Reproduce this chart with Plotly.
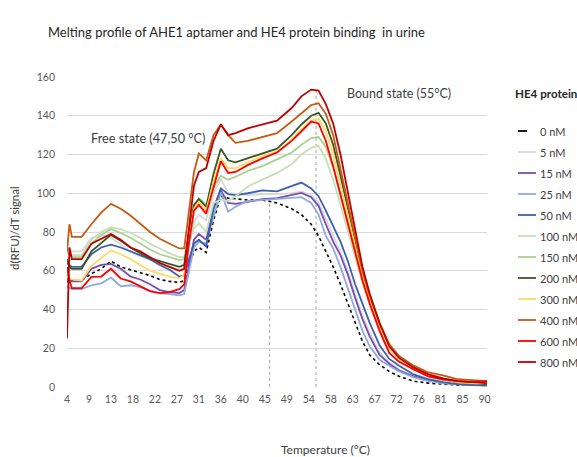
import plotly.graph_objects as go

TEMP = [4, 4.5, 5, 7, 9, 11, 13, 15, 17, 19, 21, 23, 25, 27, 28, 29, 30, 31, 32.5, 34,
        35.5, 37, 38.5, 41, 44, 47, 50, 52, 54, 55.5, 57, 58.5, 60, 61.5, 63, 64.5, 66,
        68, 70, 72, 75, 78, 81, 84, 87, 90]

NM_0 = [54, 56, 55, 55, 58.5, 61, 65, 62, 60.5, 59, 57.5, 55.5, 54.5, 54, 55, 63, 70, 72, 69.5, 86,
        98.5, 97.5, 97, 96.5, 96.5, 95, 92, 89, 84, 78, 70, 62, 53, 43, 33, 23.5, 16.5,
        11.5, 8, 5.5, 3, 2, 1.5, 1, 1, 1]
NM_5 = [72, 71, 70, 70, 77, 78.5, 77, 73.5, 70, 67.5, 65.5, 63.5, 62, 60.5, 61, 74, 85, 89, 86, 100,
        107.5, 100, 99.5, 99, 99.5, 99.5, 100, 101, 99, 95.5, 87, 78, 70, 60, 48, 37, 28,
        18, 12.5, 9, 5.5, 3.5, 2, 1.5, 1, 1]
NM_15 = [56, 55, 54.5, 54.5, 61, 63, 63.5, 61, 57, 55.5, 53, 50, 49, 48.5, 50, 64, 76, 79, 76, 92,
         101.5, 95, 94.5, 95.5, 97, 97.5, 99, 100.2, 98, 93.5, 84, 75, 68, 58, 46, 35, 26,
         16.5, 12, 8.5, 5.5, 3.5, 2, 1.5, 1, 1]
NM_25 = [52, 51, 50.5, 50.5, 52.5, 53.5, 56.5, 52, 52.5, 51.5, 49.5, 48.5, 48, 47.3, 48, 60, 72, 75, 74, 88,
         100.5, 90.5, 93, 96, 96.5, 97, 97.5, 98, 95, 89, 78, 71.5, 62, 51, 39.5, 29, 21,
         14, 11, 8, 5, 3, 2, 1.5, 1, 0.5]
NM_50 = [64, 63, 62, 62, 68.5, 72, 73.5, 72, 70, 68, 66, 63, 60.5, 57, 57.5, 66, 74, 76, 72.5, 92,
         102.5, 99.5, 99, 100, 101.5, 101, 103.5, 105.5, 102.5, 98.5, 91, 83, 75, 65, 53, 43, 33,
         21.5, 14.5, 11, 6.5, 4, 2.5, 1.5, 1, 1]
NM_100 = [72, 70, 68, 68, 76, 80, 82.5, 81.5, 79.5, 77, 74, 71.5, 69, 67, 67, 75, 82, 84.5, 80, 95,
          96.5, 96, 98.5, 103.5, 107, 110.5, 115, 120, 123.5, 124.5, 118, 107, 94, 80, 67, 54, 42,
          29.5, 19.5, 14, 9, 5.5, 3.5, 2.5, 2, 1.5]
NM_150 = [70, 68, 67, 67, 74, 78.5, 81.5, 79.5, 77, 74, 71, 68.5, 67, 65.5, 66, 80, 93, 97.5, 94, 103,
          109, 107, 108.5, 111.5, 114, 117.5, 121, 125, 128.5, 129, 124, 113, 99, 84, 70, 56, 44,
          30.5, 20, 14, 9, 5.5, 3.5, 2.5, 2, 1.5]
NM_200 = [66, 62, 61, 61, 70, 74.5, 78.5, 75.5, 72, 69, 66.5, 65, 63.5, 62, 63, 80, 94, 97, 93, 110,
          123, 117, 116, 118, 120.5, 123, 130, 135.5, 140, 141.5, 136, 125, 109, 92, 76, 59, 46,
          32, 21, 15, 10, 6, 4, 2.5, 2, 1.5]
NM_300 = [58, 56, 55.5, 55, 62.5, 66.5, 70.5, 68.5, 66, 63, 60, 58.5, 57, 56, 58, 77, 92, 95.5, 91, 106,
          118, 113, 113, 116, 119, 121.5, 127.5, 133, 137.5, 138.5, 132, 120, 104, 88, 73, 57, 45,
          31, 20.5, 14.5, 9.5, 6, 4, 2.5, 2, 2]
NM_400 = [70, 84, 77.5, 77.5, 84, 90, 94.5, 92, 88.5, 84, 80, 76.5, 74, 71.5, 71.5, 92, 111, 120.5, 117, 130,
          135.5, 130, 126, 127, 129, 131, 137, 141.5, 145.5, 146.5, 141, 130, 113, 95, 77, 60, 47,
          33, 22, 16, 11, 7.5, 6, 4, 3.5, 3]
NM_600 = [62, 55, 51, 51, 56.8, 57, 61, 56, 54.5, 52, 49.5, 48.5, 49, 50.5, 53, 75, 91, 94, 89.5, 103,
          116.5, 110.5, 111, 114.5, 118, 121, 127, 132, 137, 136, 127, 114, 99, 84, 69, 55, 43,
          29, 17.5, 13, 9, 5.5, 4, 3, 2.5, 3]
NM_800 = [25, 72, 66, 66, 74, 76.5, 79, 76, 72, 70, 67, 64, 62, 60, 61, 82, 104, 111, 113, 127,
          135.5, 130, 131, 133.5, 135.5, 137.5, 144, 150, 153.5, 153, 146, 136, 120, 100, 81, 62, 48,
          33, 21, 15, 10, 6.5, 4.5, 3, 2.5, 2]

SERIES = [
    ("0 nM", NM_0, "#000000", "dot"),
    ("5 nM", NM_5, "#D9D9D9", "solid"),
    ("15 nM", NM_15, "#7A4BB3", "solid"),
    ("25 nM", NM_25, "#8FAADC", "solid"),
    ("50 nM", NM_50, "#3A62AC", "solid"),
    ("100 nM", NM_100, "#C5E0B4", "solid"),
    ("150 nM", NM_150, "#A9D18E", "solid"),
    ("200 nM", NM_200, "#385723", "solid"),
    ("300 nM", NM_300, "#FFD966", "solid"),
    ("400 nM", NM_400, "#C55A11", "solid"),
    ("600 nM", NM_600, "#FF0000", "solid"),
    ("800 nM", NM_800, "#C00000", "solid"),
]

# Excel-style category labels (every 9th point at 0.5 °C steps)
TICK_TEMPS = [4, 8.5, 13, 17.5, 22, 26.5, 31, 35.5, 40, 44.5, 49, 53.5, 58, 62.5, 67, 71.5, 76, 80.5, 85, 89.5]
TICK_LABELS = ["4", "9", "13", "18", "22", "27", "31", "36", "40", "45", "49", "54", "58", "63", "67",
               "72", "76", "81", "85", "90"]

# Dotted markers for the two states: (temperature, height)
STATE_LINES = [(45.5, 98), (55, 153.5)]

W, H = 577, 457
L, R, T, B = 67, 90, 77, 70
PW, PH = W - L - R, H - T - B


def paper(x, y):
    return (x - L) / PW, (H - B - y) / PH


fig = go.Figure()
for name, vals, color, dash in SERIES:
    fig.add_trace(go.Scatter(
        x=TEMP, y=vals, mode="lines", name=name, showlegend=False,
        line=dict(color=color, width=1.8 if dash == "solid" else 1.6, dash=dash),
    ))

for t, top in STATE_LINES:
    fig.add_shape(type="line", x0=t, x1=t, y0=0, y1=top, xref="x", yref="y",
                  line=dict(color="#A6A6A6", width=1, dash="dot"), layer="below")

FONT = "Lato, 'Open Sans', sans-serif"
TXT = "#404040"


def note(text, x, y, size, xanchor="center", **kw):
    px, py = paper(x, y)
    fig.add_annotation(text=text, x=px, y=py, xref="paper", yref="paper", showarrow=False,
                       xanchor=xanchor, yanchor="middle",
                       font=dict(family=FONT, size=size, color=kw.pop("color", TXT)), **kw)


note("Melting profile of AHE1 aptamer and HE4 protein binding  in urine", 236, 32, 13, color="#262626")
note("Free state (47,50 °C)", 148, 138, 12.7)
note("Bound state (55°C)", 399, 93, 12.5)
note("Temperature (°C)", 325, 449, 12)
note("d(RFU)/dT signal", 14, 228, 11.5, textangle=-90)
note("<b>HE4 protein</b>", 546, 93, 11.6, color="#262626")

# legend drawn by hand so it sits exactly where Excel put it
for i, (name, vals, color, dash) in enumerate(SERIES):
    ly = 131 + 21 * i
    x0, y0 = paper(518, ly)
    x1, _ = paper(536, ly)
    fig.add_shape(type="line", x0=x0, x1=x1, y0=y0, y1=y0, xref="paper", yref="paper",
                  line=dict(color=color, width=1.8, dash="dash" if dash == "dot" else "solid"))
    note(name, 537.5, ly, 11, xanchor="left")

fig.update_layout(
    width=W, height=H,
    margin=dict(l=L, r=R, t=T, b=B),
    paper_bgcolor="white", plot_bgcolor="white",
    font=dict(family=FONT, size=11, color="#595959"),
    showlegend=False,
    xaxis=dict(range=[4, 90], tickvals=TICK_TEMPS, ticktext=TICK_LABELS, showgrid=False,
               zeroline=False, showline=False, ticks="", ticklabelstandoff=4,
               tickfont=dict(size=10.5)),
    yaxis=dict(range=[0, 160], dtick=20, showgrid=True, gridcolor="#D9D9D9", gridwidth=1,
               zeroline=False, showline=False, ticks="", ticklabelstandoff=11,
               tickfont=dict(size=10.5)),
)

fig.write_html("out.html", config={"displayModeBar": False},
               post_script="document.body.style.margin = '0';")
